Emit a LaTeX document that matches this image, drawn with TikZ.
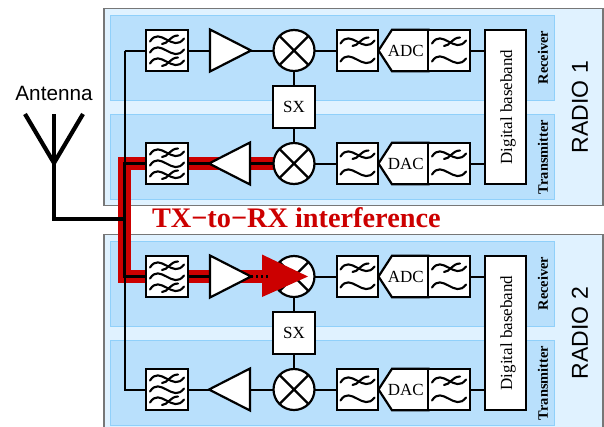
\documentclass[tikz,border=0pt]{standalone}
\usepackage{fontspec}
\setmainfont{Liberation Serif}
\newfontfamily\lsans{Liberation Sans}
\usetikzlibrary{shapes.geometric,shapes.symbols,backgrounds}
\definecolor{outerblue}{HTML}{E0F2FF}
\definecolor{innerblue}{HTML}{B9E0FC}
\definecolor{innerline}{HTML}{90D0FA}
\definecolor{boxgray}{HTML}{777777}
\definecolor{redc}{HTML}{CC0000}
\tikzset{
  x=1pt,y=-1pt,
  every node/.style={inner sep=0pt,outer sep=0pt},
  wire/.style={line width=2pt,black},
  txwire/.style={line width=2.4pt,black},
  antwire/.style={line width=4.2pt,black,line join=miter},
  block/.style={draw=black,fill=white,line width=2.2pt,line join=miter,font=\fontsize{17}{18}\selectfont},
  filterbox/.style={block,rectangle,minimum size=41.5pt},
  mixerbox/.style={block,circle,minimum size=41pt},
  sxbox/.style={block,rectangle,minimum size=41.5pt},
  ampbox/.style={block,isosceles triangle,isosceles triangle stretches,minimum width=42pt,minimum height=41pt,isosceles triangle apex angle=54,anchor=apex},
  convbox/.style={block,signal,signal from=nowhere,signal to=west,signal pointer angle=114,minimum width=50pt,minimum height=41.5pt,anchor=west},
  bandbox/.style={block,rectangle,minimum width=154pt,minimum height=41pt,rotate=90},
  wavy/.style={line width=2.1pt,line cap=round,black},
  radiobox/.style={draw=boxgray,fill=outerblue,line width=1.2pt},
  chainbox/.style={draw=innerline,fill=innerblue,line width=0.9pt},
  chainlabel/.style={font=\fontsize{14.4}{15}\selectfont\bfseries,rotate=90,text=black},
  radiolabel/.style={font=\fontsize{23}{24}\lsans,rotate=90},
  redpath/.style={draw=redc,line width=13.5pt,line join=miter},
  crossline/.style={line width=2.2pt,black},
  dotwire/.style={line width=2.3pt,black,dash pattern=on 2.4pt off 2.6pt},
}
\newcommand{\onewave}[1]{\draw[wavy] (-17,#1+2) .. controls (-7,#1-14) and (6,#1+14) .. (17,#1-1);}
\newcommand{\onecross}[1]{\draw[wavy] (-5,#1+4.5) .. controls (1,#1+4.5) and (3,#1-4) .. (11,#1-4);}
\newcommand{\threewave}[1]{\begin{scope}[shift={(#1.center)}]\onewave{-11}\onecross{-11}\onewave{0}\onewave{11}\onecross{11}\end{scope}}
\newcommand{\twowave}[1]{\begin{scope}[shift={(#1.center)}]\onewave{-9}\onecross{-9}\onewave{9}\end{scope}}
\begin{document}
\begin{tikzpicture}
\useasboundingbox (0,0) rectangle (604,426);
\foreach \r/\o in {1/0,2/226}{
  \begin{scope}[yshift=-\o pt]
  \begin{scope}[on background layer]
  \draw[radiobox] (104,8.5) rectangle (603,205.5);
  \draw[chainbox] (110.5,15.5) rectangle (554.5,100);
  \draw[chainbox] (110.5,114) rectangle (554.5,199);
  \end{scope}
  \node[filterbox] (bpf\r a) at (167,50.5) {};
  \node[ampbox,shape border rotate=0] (amp\r a) at (251,50.5) {};
  \node[mixerbox] (mix\r a) at (294,50.5) {};
  \node[sxbox] (sx\r) at (294,107) {SX};
  \node[mixerbox] (mix\r b) at (294,163.5) {};
  \node[ampbox,shape border rotate=180] (amp\r b) at (209,163.5) {};
  \node[filterbox] (bpf\r b) at (167,163.5) {};
  \node[filterbox] (lpf\r a) at (357.5,50.5) {};
  \node[filterbox] (lpf\r b) at (357.5,163.5) {};
  \node[convbox] (conv\r a) at (378.5,50.5) {\makebox[0pt]{\hspace{-9pt}ADC}};
  \node[convbox] (conv\r b) at (378.5,163.5) {\makebox[0pt]{\hspace{-9pt}DAC}};
  \node[filterbox] (bbf\r a) at (449,50.5) {};
  \node[filterbox] (bbf\r b) at (449,163.5) {};
  \node[bandbox] (bb\r) at (505.5,107) {\raisebox{-6.7pt}[0pt][0pt]{Digital baseband}};
  \node[chainlabel] (rxl\r) at (543,57.5) {Receiver};
  \node[chainlabel] (txl\r) at (543,157) {Transmitter};
  \node[radiolabel] (rad\r) at (580,107) {RADIO \r};
  \threewave{bpf\r a}\threewave{bpf\r b}
  \twowave{lpf\r a}\twowave{lpf\r b}\twowave{bbf\r a}\twowave{bbf\r b}
  \foreach \m in {a,b}{
    \draw[crossline] (mix\r\m.north west) -- (mix\r\m.south east) (mix\r\m.north east) -- (mix\r\m.south west);
  }
  \end{scope}
}
\coordinate (redturna) at (124.5,163.5);
\coordinate (redturnb) at (124.5,276.5);
\coordinate (redend) at (264,276.5);
\coordinate (antfork) at (54,163);
\coordinate (antl) at (25,114);
\coordinate (antr) at (83,114);
\coordinate (antm) at (54,114);
\coordinate (antb) at (54,219);
\coordinate (antj) at (124.5,219);
\coordinate (busa) at (124.5,50.5);
\coordinate (busb) at (124.5,389.5);
\coordinate (headtip) at (308,276.5);
\coordinate (headu) at (262,254.5);
\coordinate (headd) at (262,297);
\coordinate (dotend) at (268,276.5);
\begin{scope}[on background layer]
  \draw[redpath] (mix1b.west) -- (redturna) -- (redturnb) -- (redend);
  \draw[wire] (busa) -- (bpf1a.west);
  \draw[wire] (busa) -- (busb) -- (bpf2b.west);
  \draw[txwire] (antj) -- (redturna) -- (bpf1b.west);
  \draw[txwire] (antj) -- (redturnb) -- (bpf2a.west);
  \draw[txwire] (bpf1b.east) -- (amp1b.center);
  \draw[txwire] (amp1b.apex) -- (mix1b.west);
  \draw[txwire] (bpf2a.east) -- (amp2a.center);
  \draw[wire] (bpf1a.east) -- (amp1a.center);
  \draw[wire] (amp1a.apex) -- (mix1a.west);
  \draw[wire] (bpf2b.east) -- (amp2b.center);
  \draw[wire] (amp2b.apex) -- (mix2b.west);
  \foreach \r in {1,2}{
    \draw[wire] (mix\r a.south) -- (sx\r.north);
    \draw[wire] (sx\r.south) -- (mix\r b.north);
    \foreach \m in {a,b}{
      \draw[wire] (mix\r\m.east) -- (lpf\r\m.west);
      \draw[wire] (bbf\r\m.east) -- (bbf\r\m.east -| bb\r.north);
    }
  }
\end{scope}
\draw[antwire] (antl) -- (antfork) -- (antr);
\draw[antwire] (antm) -- (antfork) -- (antb) -- (antj);
\node[font=\fontsize{20.7}{22}\lsans] (antlabel) at (54,93) {Antenna};
\node[font=\fontsize{28.3}{30}\selectfont\bfseries,text=redc,anchor=west] (txrx) at (152,218) {TX−to−RX interference};
\fill[redc] (headtip) -- (headu) -- (headd) -- cycle;
\draw[dotwire] (amp2a.apex) -- (dotend);
\end{tikzpicture}
\end{document}
